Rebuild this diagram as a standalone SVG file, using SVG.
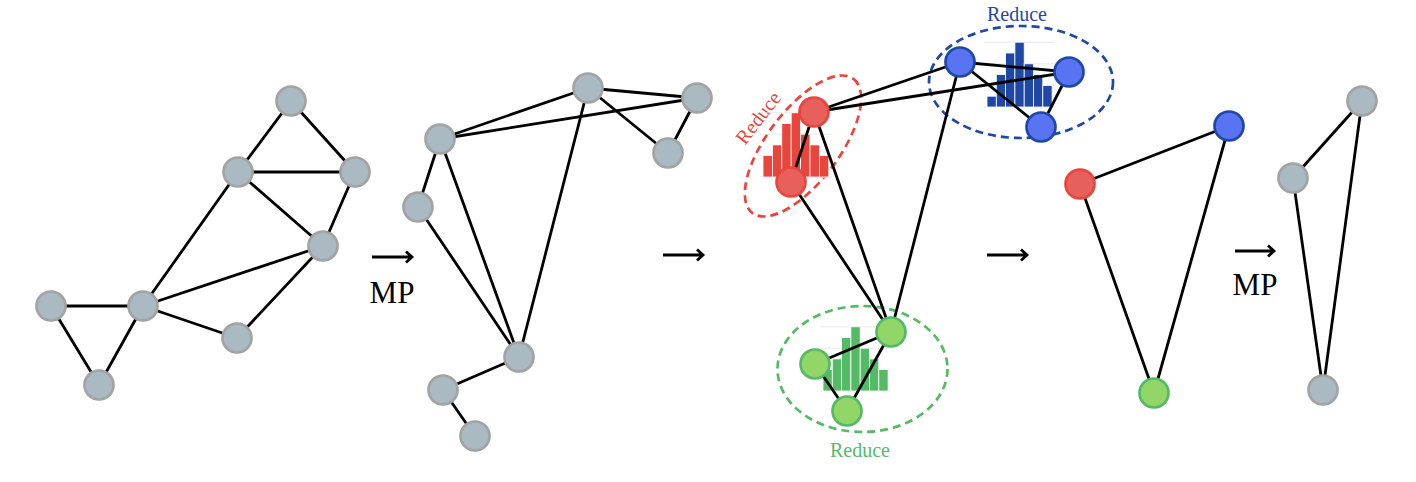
<svg xmlns="http://www.w3.org/2000/svg" width="1416" height="482" viewBox="0 0 1416 482">
  <style>
    .edge { stroke: #000; stroke-width: 2.8; fill: none; stroke-linecap: round; }
    .gray { fill: #a9bac3; stroke: #a3a3a3; stroke-width: 2.7; }
    .red { fill: #e8605b; stroke: #e6463d; stroke-width: 2.7; }
    .blue { fill: #5874f2; stroke: #1f48a6; stroke-width: 2.7; }
    .green { fill: #92d667; stroke: #54ba66; stroke-width: 2.7; }
    .arrow { stroke: #000; stroke-width: 2.8; fill: none; stroke-linecap: butt; stroke-linejoin: miter; }
    .lbl { font-family: "Liberation Serif", "Times New Roman", serif; }
    .mp { font-size: 31px; fill: #000; text-anchor: middle; }
    .reduce { font-size: 20px; text-anchor: middle; }
    .grid { stroke: #e4e4e4; stroke-width: 0.8; }
    .bar { stroke: #ffffff; stroke-width: 0.8; }
    .dash { fill: none; stroke-width: 2.7; stroke-dasharray: 8 5; }
  </style>

  <!-- step arrows and labels -->
  <g id="arrows">
    <path class="arrow" d="M372 257 H412 M406 251.5 L412 257 L406 262.5"/>
    <text class="lbl mp" x="392" y="303">MP</text>
    <path class="arrow" d="M663 255 H703 M697 249.5 L703 255 L697 260.5"/>
    <path class="arrow" d="M987 255 H1027 M1021 249.5 L1027 255 L1021 260.5"/>
    <path class="arrow" d="M1235 251 H1274 M1268 245.5 L1274 251 L1268 256.5"/>
    <text class="lbl mp" x="1255" y="295">MP</text>
  </g>

  <!-- cluster outlines -->
  <g id="clusters">
    <ellipse class="dash" cx="803" cy="146" rx="84" ry="36" transform="rotate(-53 803 146)" stroke="#e8453c"/>
    <ellipse class="dash" cx="1021" cy="82" rx="92" ry="56" stroke="#1f48a6"/>
    <ellipse class="dash" cx="862.5" cy="369" rx="85" ry="63" stroke="#54ba66"/>
    <text class="lbl reduce" x="0" y="0" fill="#e8453c" transform="translate(763.5 122) rotate(-52)">Reduce</text>
    <text class="lbl reduce" x="1017" y="21" fill="#1f48a6">Reduce</text>
    <text class="lbl reduce" x="860" y="457" fill="#54ba66">Reduce</text>
  </g>

  <!-- histograms inside the clusters -->
  <g id="hist-red" fill="#e8453c">
    <path class="grid" d="M760 177 H832 M760 155.6 H832 M760 134.2 H832 M760 112.8 H832"/>
    <rect class="bar" x="763" y="155.6" width="9.4" height="21.4"/>
    <rect class="bar" x="772.4" y="144.9" width="9.4" height="32.1"/>
    <rect class="bar" x="781.8" y="123.5" width="9.4" height="53.5"/>
    <rect class="bar" x="791.2" y="112.8" width="9.4" height="64.2"/>
    <rect class="bar" x="800.6" y="134.2" width="9.4" height="42.8"/>
    <rect class="bar" x="810" y="144.9" width="9.4" height="32.1"/>
    <rect class="bar" x="819.4" y="155.6" width="9.4" height="21.4"/>
  </g>
  <g id="hist-blue" fill="#1f48a6">
    <path class="grid" d="M984 107 H1055 M984 85.4 H1055 M984 63.8 H1055 M984 42.2 H1055"/>
    <rect class="bar" x="987" y="96.2" width="9.3" height="10.8"/>
    <rect class="bar" x="996.3" y="74.6" width="9.3" height="32.4"/>
    <rect class="bar" x="1005.6" y="53" width="9.3" height="54"/>
    <rect class="bar" x="1014.9" y="42.2" width="9.3" height="64.8"/>
    <rect class="bar" x="1024.2" y="63.8" width="9.3" height="43.2"/>
    <rect class="bar" x="1033.5" y="74.6" width="9.3" height="32.4"/>
    <rect class="bar" x="1042.8" y="85.4" width="9.3" height="21.6"/>
  </g>
  <g id="hist-green" fill="#54ba66">
    <path class="grid" d="M820 391 H891 M820 369.6 H891 M820 348.2 H891 M820 326.8 H891"/>
    <rect class="bar" x="823" y="369.6" width="9.3" height="21.4"/>
    <rect class="bar" x="832.3" y="358.9" width="9.3" height="32.1"/>
    <rect class="bar" x="841.6" y="337.5" width="9.3" height="53.5"/>
    <rect class="bar" x="850.9" y="326.8" width="9.3" height="64.2"/>
    <rect class="bar" x="860.2" y="348.2" width="9.3" height="42.8"/>
    <rect class="bar" x="869.5" y="358.9" width="9.3" height="32.1"/>
    <rect class="bar" x="878.8" y="369.6" width="9.3" height="21.4"/>
  </g>

  <!-- connectors -->
  <g id="edges">
    <!-- graph 1 -->
    <line class="edge" x1="291" y1="101" x2="238" y2="172"/>
    <line class="edge" x1="291" y1="101" x2="355" y2="172"/>
    <line class="edge" x1="238" y1="172" x2="355" y2="172"/>
    <line class="edge" x1="238" y1="172" x2="323" y2="246"/>
    <line class="edge" x1="355" y1="172" x2="323" y2="246"/>
    <line class="edge" x1="238" y1="172" x2="143" y2="306"/>
    <line class="edge" x1="323" y1="246" x2="143" y2="306"/>
    <line class="edge" x1="143" y1="306" x2="237" y2="338"/>
    <line class="edge" x1="237" y1="338" x2="323" y2="246"/>
    <line class="edge" x1="51" y1="306" x2="143" y2="306"/>
    <line class="edge" x1="51" y1="306" x2="99" y2="385"/>
    <line class="edge" x1="143" y1="306" x2="99" y2="385"/>
    <!-- graph 2 -->
    <line class="edge" x1="440" y1="139" x2="588" y2="88"/>
    <line class="edge" x1="440" y1="139" x2="697" y2="98"/>
    <line class="edge" x1="588" y1="88" x2="697" y2="98"/>
    <line class="edge" x1="588" y1="88" x2="668" y2="153"/>
    <line class="edge" x1="697" y1="98" x2="668" y2="153"/>
    <line class="edge" x1="440" y1="139" x2="418" y2="207"/>
    <line class="edge" x1="440" y1="139" x2="519" y2="357"/>
    <line class="edge" x1="418" y1="207" x2="519" y2="357"/>
    <line class="edge" x1="588" y1="88" x2="519" y2="357"/>
    <line class="edge" x1="519" y1="357" x2="443" y2="390"/>
    <line class="edge" x1="443" y1="390" x2="475" y2="436"/>
    <!-- graph 3 -->
    <line class="edge" x1="814" y1="112" x2="960" y2="62"/>
    <line class="edge" x1="814" y1="112" x2="1069" y2="72"/>
    <line class="edge" x1="960" y1="62" x2="1069" y2="72"/>
    <line class="edge" x1="960" y1="62" x2="1041" y2="127"/>
    <line class="edge" x1="1069" y1="72" x2="1041" y2="127"/>
    <line class="edge" x1="814" y1="112" x2="791" y2="182"/>
    <line class="edge" x1="814" y1="112" x2="891" y2="332"/>
    <line class="edge" x1="791" y1="182" x2="891" y2="332"/>
    <line class="edge" x1="960" y1="62" x2="891" y2="332"/>
    <line class="edge" x1="891" y1="332" x2="815" y2="364"/>
    <line class="edge" x1="891" y1="332" x2="847" y2="411"/>
    <line class="edge" x1="815" y1="364" x2="847" y2="411"/>
    <!-- graph 4 -->
    <line class="edge" x1="1080" y1="184" x2="1229" y2="126"/>
    <line class="edge" x1="1080" y1="184" x2="1154" y2="393"/>
    <line class="edge" x1="1229" y1="126" x2="1154" y2="393"/>
    <!-- graph 5 -->
    <line class="edge" x1="1362" y1="101" x2="1293" y2="178"/>
    <line class="edge" x1="1293" y1="178" x2="1323" y2="390"/>
    <line class="edge" x1="1362" y1="101" x2="1323" y2="390"/>
  </g>

  <!-- graph 1 nodes -->
  <g id="g1-a"><circle class="gray" cx="291" cy="101" r="14.5"/></g>
  <g id="g1-b"><circle class="gray" cx="238" cy="172" r="14.5"/></g>
  <g id="g1-c"><circle class="gray" cx="355" cy="172" r="14.5"/></g>
  <g id="g1-d"><circle class="gray" cx="323" cy="246" r="14.5"/></g>
  <g id="g1-e"><circle class="gray" cx="51" cy="306" r="14.5"/></g>
  <g id="g1-f"><circle class="gray" cx="143" cy="306" r="14.5"/></g>
  <g id="g1-g"><circle class="gray" cx="237" cy="338" r="14.5"/></g>
  <g id="g1-h"><circle class="gray" cx="99" cy="385" r="14.5"/></g>

  <!-- graph 2 nodes -->
  <g id="g2-a"><circle class="gray" cx="588" cy="88" r="14.5"/></g>
  <g id="g2-b"><circle class="gray" cx="697" cy="98" r="14.5"/></g>
  <g id="g2-c"><circle class="gray" cx="668" cy="153" r="14.5"/></g>
  <g id="g2-d"><circle class="gray" cx="440" cy="139" r="14.5"/></g>
  <g id="g2-e"><circle class="gray" cx="418" cy="207" r="14.5"/></g>
  <g id="g2-f"><circle class="gray" cx="519" cy="357" r="14.5"/></g>
  <g id="g2-g"><circle class="gray" cx="443" cy="390" r="14.5"/></g>
  <g id="g2-h"><circle class="gray" cx="475" cy="436" r="14.5"/></g>

  <!-- graph 3 nodes -->
  <g id="g3-r1"><circle class="red" cx="814" cy="112" r="14.5"/></g>
  <g id="g3-r2"><circle class="red" cx="791" cy="182" r="14.5"/></g>
  <g id="g3-b1"><circle class="blue" cx="960" cy="62" r="14.5"/></g>
  <g id="g3-b2"><circle class="blue" cx="1069" cy="72" r="14.5"/></g>
  <g id="g3-b3"><circle class="blue" cx="1041" cy="127" r="14.5"/></g>
  <g id="g3-g1"><circle class="green" cx="891" cy="332" r="14.5"/></g>
  <g id="g3-g2"><circle class="green" cx="815" cy="364" r="14.5"/></g>
  <g id="g3-g3"><circle class="green" cx="847" cy="411" r="14.5"/></g>

  <!-- graph 4 nodes -->
  <g id="g4-red"><circle class="red" cx="1080" cy="184" r="14.5"/></g>
  <g id="g4-blue"><circle class="blue" cx="1229" cy="126" r="14.5"/></g>
  <g id="g4-green"><circle class="green" cx="1154" cy="393" r="14.5"/></g>

  <!-- graph 5 nodes -->
  <g id="g5-top"><circle class="gray" cx="1362" cy="101" r="14.5"/></g>
  <g id="g5-left"><circle class="gray" cx="1293" cy="178" r="14.5"/></g>
  <g id="g5-bottom"><circle class="gray" cx="1323" cy="390" r="14.5"/></g>
</svg>
